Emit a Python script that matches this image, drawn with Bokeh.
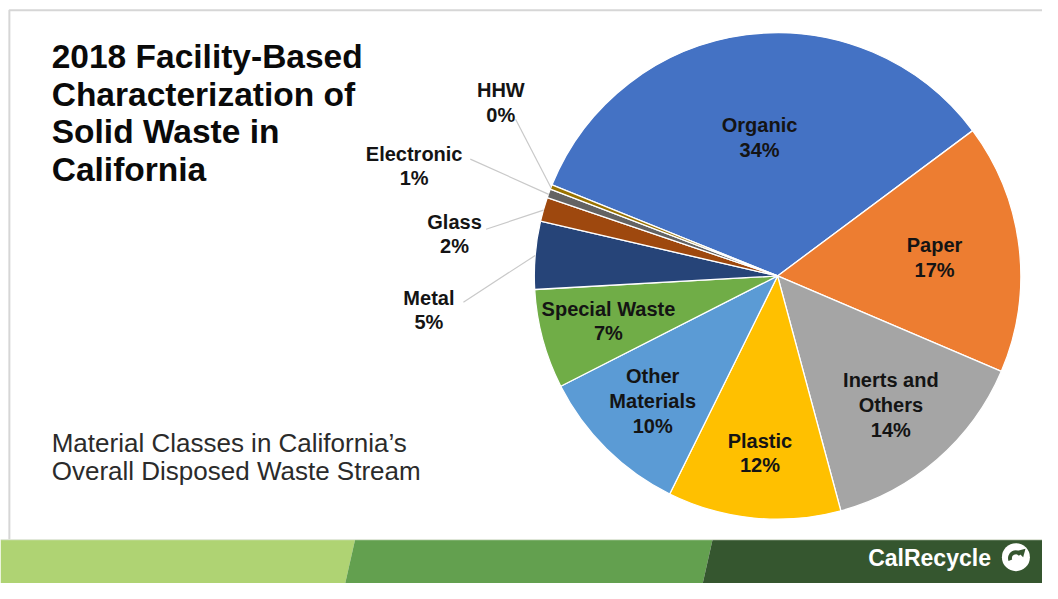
import math
from bokeh.plotting import figure
from bokeh.models import Range1d, ColumnDataSource
from bokeh.core.properties import value
from bokeh.embed import file_html
from bokeh.resources import INLINE

# ---------------- data ----------------
categories = ["Organic", "Paper", "Inerts and Others", "Plastic", "Other Materials",
              "Special Waste", "Metal", "Glass", "Electronic", "HHW"]
label_lines = [["Organic"], ["Paper"], ["Inerts and", "Others"], ["Plastic"],
               ["Other", "Materials"], ["Special Waste"], ["Metal"], ["Glass"],
               ["Electronic"], ["HHW"]]
shares = [33.7, 16.6, 14.4, 11.5, 10.2, 6.6, 4.5, 1.6, 0.6, 0.3]
colors = ["#4472C4", "#ED7D31", "#A5A5A5", "#FFC000", "#5B9BD5",
          "#70AD47", "#264478", "#9E480E", "#636363", "#997300"]

title_lines = ["2018 Facility-Based", "Characterization of", "Solid Waste in", "California"]
subtitle_lines = ["Material Classes in California\u2019s", "Overall Disposed Waste Stream"]
logo_text = "CalRecycle"

# ---------------- layout (coordinates of the 1058x599 slide) ----------------
W, H = 1042, 583
SLIDE_W, SLIDE_H = 1058, 599


def sy(y):
    return SLIDE_H - y


CX, CY, R = 789, 283, 247
FIRST_ANGLE = 292.0  # degrees, clockwise from 12 o'clock
inside_frac = {"Organic": 0.58, "Paper": 0.65, "Inerts and Others": 0.71,
               "Plastic": 0.74, "Other Materials": 0.73, "Special Waste": 0.72}
outside_pos = {"Metal": (435, 318), "Glass": (461, 240),
               "Electronic": (420, 170), "HHW": (508, 105)}
leader_anchor = {"Metal": (470, 310), "Glass": (493, 235),
                 "Electronic": (477, 163), "HHW": (523, 122)}
LINE_GAP = 25.5

p = figure(width=W, height=H, output_backend="svg", toolbar_location=None,
           x_range=Range1d(0, SLIDE_W), y_range=Range1d(0, SLIDE_H),
           min_border=0, background_fill_color="white", border_fill_color="white")
p.axis.visible = False
p.grid.visible = False
p.outline_line_color = None

# ---------------- pie ----------------
total = sum(shares)
starts, ends, mids = [], [], []
acc = FIRST_ANGLE
for v in shares:
    deg = v / total * 360.0
    t1, t2 = acc, acc + deg
    starts.append(math.radians(90 - t2))
    ends.append(math.radians(90 - t1))
    mids.append((t1 + t2) / 2)
    acc = t2

src = ColumnDataSource(dict(cat=categories, start=starts, end=ends, color=colors))
p.wedge(x=CX, y=sy(CY), radius=R, start_angle="start", end_angle="end",
        fill_color="color", line_color="white", line_width=1.3, source=src)

# ---------------- labels ----------------
lx, ly, lt = [], [], []
seg = dict(x0=[], y0=[], x1=[], y1=[])
for cat, lines, v, m in zip(categories, label_lines, shares, mids):
    pct = "%d%%" % math.floor(v + 0.5)
    all_lines = lines + [pct]
    if cat in inside_frac:
        rr = R * inside_frac[cat]
        x = CX + rr * math.sin(math.radians(m))
        y = CY - rr * math.cos(math.radians(m))
    else:
        x, y = outside_pos[cat]
        ex = CX + R * math.sin(math.radians(m))
        ey = CY - R * math.cos(math.radians(m))
        ax, ay = leader_anchor[cat]
        seg["x0"].append(ax); seg["y0"].append(sy(ay))
        seg["x1"].append(ex); seg["y1"].append(sy(ey))
    n = len(all_lines)
    for i, t in enumerate(all_lines):
        lx.append(x)
        ly.append(sy(y + (i - (n - 1) / 2) * LINE_GAP))
        lt.append(t)

p.segment(x0="x0", y0="y0", x1="x1", y1="y1", source=ColumnDataSource(seg),
          line_color="#c9c9c9", line_width=1.2)
p.text(x=lx, y=ly, text=lt, text_font=value("Liberation Sans"), text_font_style="bold",
       text_font_size="20px", text_align="center", text_baseline="middle",
       text_color="#141414")

# ---------------- title & subtitle ----------------
p.text(x=[52] * len(title_lines), y=[sy(58 + i * 38.5) for i in range(len(title_lines))],
       text=title_lines, text_font=value("Liberation Sans"), text_font_style="bold",
       text_font_size="33.5px", text_align="left", text_baseline="middle", text_color="#0a0a0a")
p.text(x=[52] * len(subtitle_lines), y=[sy(455 + i * 28.5) for i in range(len(subtitle_lines))],
       text=subtitle_lines, text_font=value("Liberation Sans"),
       text_font_size="26px", text_align="left", text_baseline="middle", text_color="#2b2b2b")

# ---------------- slide border ----------------
p.line(x=[9, 9, SLIDE_W], y=[sy(554), sy(10), sy(10)], line_color="#d6d6d6", line_width=2)

# ---------------- footer band ----------------
top, bot = sy(554), sy(SLIDE_H)
p.patches(xs=[[0, 360, 350, 0], [360, 723, 713, 350], [723, SLIDE_W, SLIDE_W, 713]],
          ys=[[top, top, bot, bot]] * 3,
          fill_color=["#AFD373", "#63A04F", "#35562F"], line_color=None)
p.line(x=[0, SLIDE_W], y=[top, top], line_color="#dfe6d8", line_width=1)

# logo
p.text(x=[881], y=[sy(573)], text=[logo_text], text_font=value("Liberation Sans"),
       text_font_style="bold", text_font_size="23px", text_align="left",
       text_baseline="middle", text_color="white")
p.scatter(x=[1031], y=[sy(572)], size=28, marker="circle", fill_color="white", line_color=None)
p.annular_wedge(x=[1031], y=[sy(573)], inner_radius=4, outer_radius=8,
                start_angle=math.radians(200), end_angle=math.radians(40),
                direction="clock", fill_color="#35562F", line_color=None)
p.scatter(x=[1037], y=[sy(567)], size=9, marker="triangle", angle=math.radians(-45),
          fill_color="#35562F", line_color=None)

open("out.html", "w").write(file_html(p, INLINE))
